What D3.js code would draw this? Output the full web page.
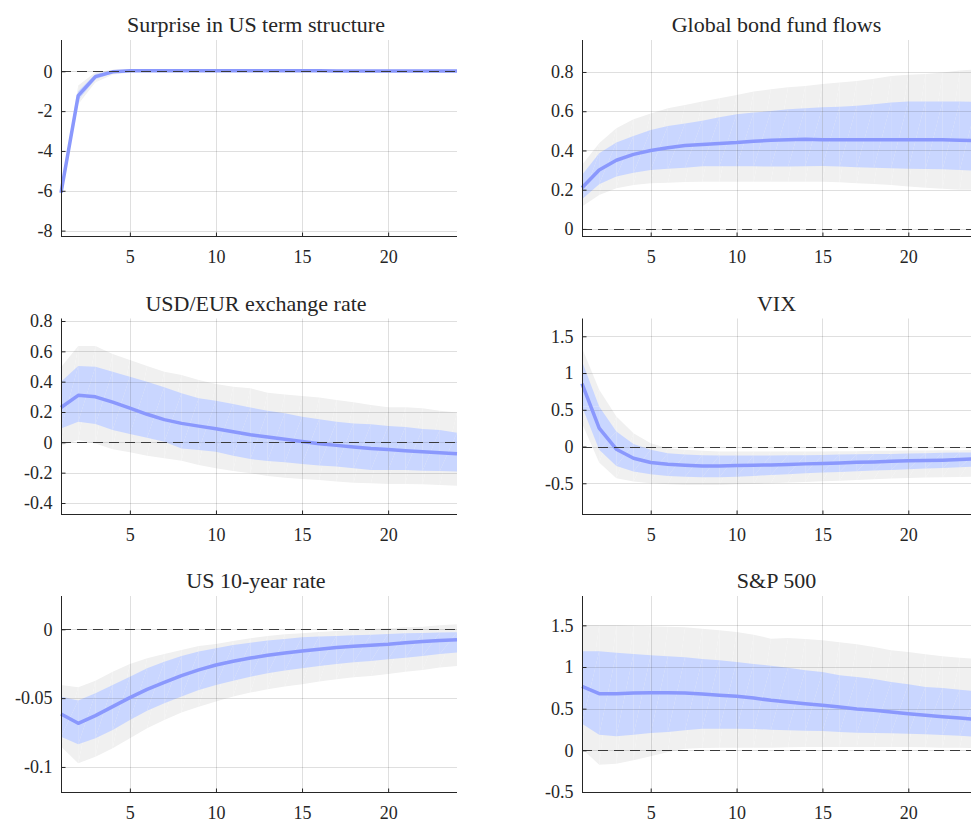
<!DOCTYPE html>
<html>
<head>
<meta charset="utf-8">
<script src="https://cdn.jsdelivr.net/npm/d3@7"></script>
<style>
  html, body { margin: 0; padding: 0; background: #fff; }
  svg { display: block; }
  text { font-family: "Liberation Serif", "Times New Roman", serif; fill: #262626; }
</style>
</head>
<body>
<svg id="chart" width="971" height="819"></svg>
<script>
// Impulse responses over a 24-step horizon: median with 68% and 90% bands
const horizons = [1,2,3,4,5,6,7,8,9,10,11,12,13,14,15,16,17,18,19,20,21,22,23,24];
const xTicks = [5, 10, 15, 20];

// Surprise in US term structure
const termMed  = [-6.10,-1.22,-0.27,-0.03,0.03,0.03,0.03,0.02,0.02,0.02,0.02,0.02,0.02,0.02,0.02,0.02,0.01,0.01,0.01,0.01,0.01,0.01,0.01,0.01];
const termLo68 = [-6.16,-1.45,-0.40,-0.10,-0.02,0.00,-0.01,-0.01,-0.01,-0.01,-0.01,-0.01,-0.01,-0.01,-0.01,-0.01,-0.02,-0.02,-0.02,-0.02,-0.02,-0.02,-0.02,-0.02];
const termHi68 = [-6.04,-1.00,-0.14,0.04,0.07,0.06,0.06,0.05,0.05,0.05,0.05,0.05,0.05,0.05,0.05,0.05,0.04,0.04,0.04,0.04,0.04,0.04,0.04,0.04];
const termLo90 = [-6.22,-1.65,-0.55,-0.18,-0.06,-0.03,-0.03,-0.03,-0.03,-0.03,-0.03,-0.03,-0.03,-0.03,-0.03,-0.03,-0.04,-0.04,-0.04,-0.04,-0.04,-0.04,-0.04,-0.04];
const termHi90 = [-5.98,-0.72,-0.05,0.08,0.10,0.08,0.08,0.07,0.07,0.07,0.07,0.07,0.07,0.07,0.07,0.07,0.06,0.06,0.06,0.06,0.06,0.06,0.06,0.06];
const termTicks = [-8, -6, -4, -2, 0];

// Global bond fund flows
const flowMed  = [0.21,0.30,0.35,0.38,0.40,0.414,0.425,0.43,0.436,0.44,0.447,0.452,0.455,0.457,0.455,0.455,0.455,0.455,0.455,0.455,0.455,0.454,0.452,0.45];
const flowLo68 = [0.151,0.228,0.267,0.287,0.30,0.307,0.312,0.319,0.319,0.319,0.319,0.318,0.318,0.319,0.321,0.318,0.314,0.312,0.309,0.307,0.306,0.304,0.30,0.297];
const flowHi68 = [0.275,0.386,0.44,0.474,0.504,0.525,0.538,0.552,0.569,0.584,0.593,0.601,0.61,0.615,0.62,0.623,0.628,0.635,0.644,0.649,0.65,0.65,0.649,0.647];
const flowLo90 = [0.114,0.173,0.207,0.224,0.233,0.236,0.239,0.241,0.241,0.241,0.241,0.241,0.241,0.241,0.241,0.238,0.233,0.229,0.224,0.216,0.21,0.205,0.20,0.199];
const flowHi90 = [0.326,0.437,0.513,0.559,0.589,0.615,0.632,0.649,0.666,0.683,0.70,0.712,0.722,0.729,0.739,0.747,0.754,0.766,0.78,0.786,0.79,0.797,0.807,0.814];
const flowTicks = [0, 0.2, 0.4, 0.6, 0.8];

// USD/EUR exchange rate
const fxMed  = [0.23,0.31,0.30,0.265,0.225,0.185,0.15,0.125,0.107,0.09,0.07,0.05,0.035,0.02,0.005,-0.01,-0.02,-0.03,-0.04,-0.047,-0.055,-0.062,-0.068,-0.075];
const fxLo68 = [0.092,0.136,0.121,0.081,0.055,0.031,0.004,-0.04,-0.051,-0.062,-0.088,-0.11,-0.123,-0.132,-0.143,-0.152,-0.16,-0.171,-0.182,-0.182,-0.182,-0.187,-0.189,-0.193];
const fxHi68 = [0.40,0.503,0.499,0.466,0.433,0.40,0.363,0.323,0.29,0.275,0.253,0.229,0.209,0.191,0.169,0.152,0.136,0.125,0.119,0.108,0.101,0.088,0.081,0.064];
const fxLo90 = [-0.022,0.015,-0.007,-0.046,-0.066,-0.088,-0.105,-0.121,-0.149,-0.171,-0.189,-0.204,-0.222,-0.233,-0.242,-0.248,-0.259,-0.266,-0.27,-0.275,-0.275,-0.277,-0.281,-0.286];
const fxHi90 = [0.495,0.635,0.635,0.582,0.543,0.503,0.466,0.444,0.411,0.385,0.367,0.356,0.327,0.316,0.305,0.295,0.279,0.264,0.246,0.231,0.231,0.224,0.209,0.196];
const fxTicks = [-0.4, -0.2, 0, 0.2, 0.4, 0.6, 0.8];

// VIX
const vixMed  = [0.855,0.25,-0.036,-0.159,-0.218,-0.241,-0.255,-0.264,-0.264,-0.259,-0.255,-0.25,-0.245,-0.236,-0.232,-0.223,-0.214,-0.209,-0.2,-0.195,-0.19,-0.185,-0.177,-0.168];
const vixLo68 = [0.545,-0.045,-0.264,-0.34,-0.377,-0.40,-0.41,-0.418,-0.418,-0.41,-0.40,-0.386,-0.377,-0.364,-0.355,-0.345,-0.336,-0.327,-0.318,-0.309,-0.30,-0.291,-0.282,-0.273];
const vixHi68 = [1.16,0.545,0.205,0.036,-0.045,-0.09,-0.109,-0.118,-0.123,-0.123,-0.123,-0.123,-0.118,-0.118,-0.114,-0.109,-0.105,-0.1,-0.1,-0.095,-0.091,-0.086,-0.082,-0.082];
const vixLo90 = [0.318,-0.218,-0.432,-0.477,-0.50,-0.514,-0.523,-0.523,-0.523,-0.514,-0.509,-0.50,-0.49,-0.482,-0.473,-0.464,-0.455,-0.445,-0.436,-0.427,-0.423,-0.418,-0.414,-0.409];
const vixHi90 = [1.34,0.773,0.41,0.182,0.045,-0.023,-0.045,-0.059,-0.068,-0.068,-0.068,-0.068,-0.068,-0.068,-0.068,-0.064,-0.064,-0.059,-0.059,-0.055,-0.055,-0.05,-0.05,-0.045];
const vixTicks = [-0.5, 0, 0.5, 1, 1.5];

// US 10-year rate
const tenMed  = [-0.0615,-0.0683,-0.0627,-0.0562,-0.0496,-0.0436,-0.0385,-0.0337,-0.0295,-0.0259,-0.0232,-0.0209,-0.0189,-0.0172,-0.0157,-0.0145,-0.0133,-0.0123,-0.0115,-0.0108,-0.0097,-0.0089,-0.0082,-0.0076];
const tenLo68 = [-0.078,-0.0835,-0.0792,-0.0731,-0.0659,-0.0591,-0.0538,-0.0489,-0.0441,-0.0404,-0.0373,-0.0344,-0.032,-0.03,-0.0283,-0.0266,-0.0252,-0.024,-0.023,-0.0218,-0.0206,-0.0194,-0.0179,-0.0169];
const tenHi68 = [-0.0489,-0.0518,-0.0465,-0.0404,-0.0344,-0.0283,-0.0235,-0.0194,-0.0162,-0.0138,-0.0114,-0.0097,-0.0082,-0.007,-0.0058,-0.0053,-0.0048,-0.0044,-0.0039,-0.0034,-0.0029,-0.0027,-0.0024,-0.0022];
const tenLo90 = [-0.0852,-0.0973,-0.0925,-0.0864,-0.0792,-0.0719,-0.0659,-0.0605,-0.0562,-0.0525,-0.0489,-0.046,-0.0436,-0.0416,-0.04,-0.038,-0.0363,-0.0349,-0.0339,-0.0324,-0.0308,-0.0295,-0.0278,-0.0266];
const tenHi90 = [-0.0404,-0.0421,-0.0373,-0.0308,-0.0252,-0.0211,-0.0179,-0.015,-0.0121,-0.0107,-0.0085,-0.0065,-0.0048,-0.0036,-0.0029,-0.0019,-0.0012,-0.0005,0.0002,0.0007,0.0015,0.0019,0.0029,0.0036];
const tenTicks = [-0.1, -0.05, 0];

// S&P 500
const spMed  = [0.768,0.68,0.68,0.688,0.692,0.692,0.688,0.676,0.66,0.648,0.628,0.60,0.58,0.56,0.54,0.52,0.496,0.48,0.46,0.44,0.42,0.404,0.388,0.368];
const spLo68 = [0.32,0.188,0.168,0.188,0.208,0.22,0.24,0.26,0.26,0.26,0.256,0.248,0.24,0.236,0.232,0.22,0.212,0.208,0.204,0.2,0.192,0.184,0.176,0.16];
const spHi68 = [1.188,1.188,1.172,1.156,1.14,1.128,1.116,1.096,1.08,1.06,1.036,1.016,0.992,0.96,0.94,0.90,0.88,0.856,0.82,0.792,0.76,0.748,0.728,0.708];
const spLo90 = [0.02,-0.172,-0.16,-0.12,-0.072,-0.02,0.02,0.028,0.032,0.032,0.032,0.032,0.036,0.04,0.04,0.04,0.04,0.04,0.04,0.04,0.036,0.032,0.032,0.028];
const spHi90 = [1.50,1.50,1.50,1.496,1.488,1.484,1.476,1.46,1.44,1.42,1.388,1.34,1.348,1.336,1.32,1.296,1.272,1.24,1.20,1.18,1.152,1.128,1.112,1.096];
const spTicks = [-0.5, 0, 0.5, 1, 1.5];

// Panel set-up: grid position, axis limits and data
const panels = [
  { title: "Surprise in US term structure", col: 0, row: 0, yDomain: [-8.27, 1.57],
    med: termMed, lo68: termLo68, hi68: termHi68, lo90: termLo90, hi90: termHi90, ticks: termTicks },
  { title: "Global bond fund flows", col: 1, row: 0, yDomain: [-0.036, 0.963],
    med: flowMed, lo68: flowLo68, hi68: flowHi68, lo90: flowLo90, hi90: flowHi90, ticks: flowTicks },
  { title: "USD/EUR exchange rate", col: 0, row: 1, yDomain: [-0.4725, 0.8165],
    med: fxMed, lo68: fxLo68, hi68: fxHi68, lo90: fxLo90, hi90: fxHi90, ticks: fxTicks },
  { title: "VIX", col: 1, row: 1, yDomain: [-0.918, 1.742],
    med: vixMed, lo68: vixLo68, hi68: vixHi68, lo90: vixLo90, hi90: vixHi90, ticks: vixTicks },
  { title: "US 10-year rate", col: 0, row: 2, yDomain: [-0.1182, 0.0242],
    med: tenMed, lo68: tenLo68, hi68: tenHi68, lo90: tenLo90, hi90: tenHi90, ticks: tenTicks },
  { title: "S&P 500", col: 1, row: 2, yDomain: [-0.5, 1.852],
    med: spMed, lo68: spLo68, hi68: spHi68, lo90: spLo90, hi90: spHi90, ticks: spTicks }
];

const colX = [[61, 457], [582, 977]];
const rowY = [[40, 236], [318.5, 514], [596, 792]];

const COLORS = {
  outer: "#f0f0f0",
  inner: "#c9d6ff",
  median: "#8a98fd",
  axis: "#262626",
  zero: "#3a3a3a"
};
const SERIF = "'Liberation Serif', 'Times New Roman', serif";

const svg = d3.select("#chart");
const fmt = v => (Object.is(v, -0) ? 0 : v).toString();

panels.forEach(p => {
  const [x0, x1] = colX[p.col];
  const [y0, y1] = rowY[p.row];
  const x = d3.scaleLinear().domain([1, 24]).range([x0, x1]);
  const y = d3.scaleLinear().domain(p.yDomain).range([y1, y0]);
  const g = svg.append("g");

  // Band drawn as triangle strips so each quad keeps its own diagonal seam
  const drawBand = (lo, hi, fill) => {
    const tris = [];
    for (let i = 0; i < horizons.length - 1; i++) {
      const a = [x(horizons[i]), y(lo[i])], b = [x(horizons[i]), y(hi[i])];
      const c = [x(horizons[i + 1]), y(hi[i + 1])], d = [x(horizons[i + 1]), y(lo[i + 1])];
      tris.push([a, b, c], [a, c, d]);
    }
    g.append("g").selectAll("path").data(tris).join("path")
      .attr("d", t => "M" + t.map(pt => pt.join(",")).join("L") + "Z")
      .attr("fill", fill);
  };
  drawBand(p.lo90, p.hi90, COLORS.outer);
  drawBand(p.lo68, p.hi68, COLORS.inner);

  // Grid lines
  const grid = g.append("g").attr("stroke", COLORS.axis).attr("stroke-opacity", 0.15).attr("stroke-width", 1);
  grid.selectAll("line.v").data(xTicks).join("line")
    .attr("x1", d => Math.round(x(d)) + 0.5).attr("x2", d => Math.round(x(d)) + 0.5)
    .attr("y1", y0).attr("y2", y1);
  grid.selectAll("line.h").data(p.ticks).join("line")
    .attr("x1", x0).attr("x2", x1)
    .attr("y1", d => Math.round(y(d)) + 0.5).attr("y2", d => Math.round(y(d)) + 0.5);

  // Median response
  g.append("path")
    .datum(horizons.map((h, i) => [h, p.med[i]]))
    .attr("fill", "none")
    .attr("stroke", COLORS.median)
    .attr("stroke-width", 3.5)
    .attr("stroke-linejoin", "round")
    .attr("d", d3.line().x(d => x(d[0])).y(d => y(d[1])));

  // Zero reference line
  g.append("line")
    .attr("x1", x(1)).attr("x2", x(24))
    .attr("y1", Math.round(y(0)) + 0.5).attr("y2", Math.round(y(0)) + 0.5)
    .attr("stroke", COLORS.zero).attr("stroke-width", 1)
    .attr("stroke-dasharray", "10,6");

  // Axes with inward ticks
  const yAxis = d3.axisLeft(y).tickValues(p.ticks).tickFormat(fmt)
    .tickSizeInner(-4).tickSizeOuter(0).tickPadding(9);
  const xAxis = d3.axisBottom(x).tickValues(xTicks).tickFormat(fmt)
    .tickSizeInner(-4).tickSizeOuter(0).tickPadding(14);

  const ya = g.append("g").attr("transform", `translate(${Math.round(x0) + 0.5},0)`).call(yAxis);
  const xa = g.append("g").attr("transform", `translate(0,${Math.round(y1) + 0.5})`).call(xAxis);
  [ya, xa].forEach(a => {
    a.attr("font-family", SERIF).attr("font-size", 18);
    a.select(".domain").attr("stroke", COLORS.axis);
    a.selectAll(".tick line").attr("stroke", COLORS.axis);
    a.selectAll(".tick text").attr("fill", COLORS.axis)
      .style("font-family", SERIF)
      .style("font-size", "18px");
  });
  ya.select(".domain").attr("d", `M0,${y0}V${y1}`);
  xa.select(".domain").attr("d", `M${x0},0H${x1}`);

  // Panel title
  g.append("text")
    .attr("x", (x0 + x1) / 2 - 3)
    .attr("y", y0 - 8)
    .attr("text-anchor", "middle")
    .style("font-family", SERIF)
    .style("font-size", "22px")
    .text(p.title);
});
</script>
</body>
</html>
